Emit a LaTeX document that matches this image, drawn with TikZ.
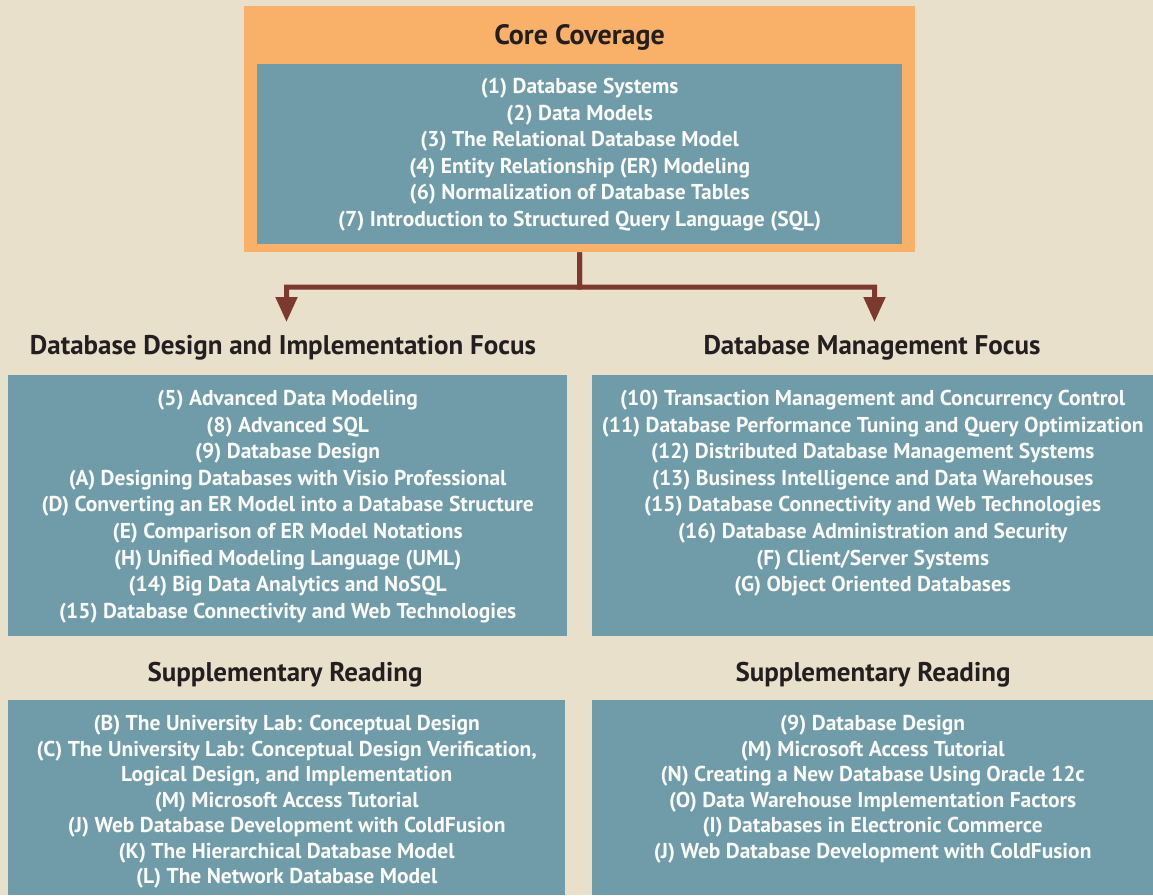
\documentclass[tikz,border=0pt]{standalone}
\usepackage{fontspec}
\setmainfont{PT Sans}
\usetikzlibrary{arrows.meta, positioning}
\definecolor{paper}{RGB}{232,224,202}
\definecolor{coreorange}{RGB}{249,176,104}
\definecolor{panelteal}{RGB}{112,156,169}
\definecolor{flowbrown}{RGB}{124,58,46}
\definecolor{headink}{RGB}{35,31,32}
\definecolor{itemink}{RGB}{250,250,246}

\begin{document}
\begin{tikzpicture}[x=1pt, y=-1pt,
    panel/.style={fill=panelteal, inner sep=0pt, anchor=north west},
    head/.style={text=headink, inner sep=0pt, font=\bfseries\fontsize{27}{32}\selectfont},
    items/.style={text=itemink, inner sep=0pt, align=center, font=\bfseries\fontsize{21.5}{26.6}\selectfont},
    suppitems/.style={items, font=\bfseries\fontsize{21.5}{25.5}\selectfont},
    flow/.style={draw=flowbrown, line width=5pt, -{Triangle[width=21pt, length=25pt]}}]
    \fill[paper] (0,0) rectangle (1153,895);
    \useasboundingbox (0,0) rectangle (1153,895);

    % core coverage
    \node[fill=coreorange, inner sep=0pt, anchor=north west, minimum width=671pt, minimum height=246pt] (corebox) at (244,6) {};
    \node[panel, minimum width=645pt, minimum height=180pt] (corepanel) at (257,64) {};
    \node[head, font=\bfseries\fontsize{28}{32}\selectfont] (corehead) at (579.5,37) {Core Coverage};
    \node[items, below=14pt of corepanel.north] (corelist) {%
        (1) Database Systems\\
        (2) Data Models\\
        (3) The Relational Database Model\\
        (4) Entity Relationship (ER) Modeling\\
        (6) Normalization of Database Tables\\
        (7) Introduction to Structured Query Language (SQL)};

    % two focus tracks
    \node[head] (designhead) at (283,347.5) {Database Design and Implementation Focus};
    \node[head] (mgmthead) at (872,347.5) {Database Management Focus};
    \node[panel, minimum width=559pt, minimum height=261pt] (designbox) at (8,375) {};
    \node[panel, minimum width=561pt, minimum height=261pt] (mgmtbox) at (592,375) {};
    \node[items, below=15pt of designbox.north] (designlist) {%
        (5) Advanced Data Modeling\\
        (8) Advanced SQL\\
        (9) Database Design\\
        (A) Designing Databases with Visio Professional\\
        (D) Converting an ER Model into a Database Structure\\
        (E) Comparison of ER Model Notations\\
        (H) Unified Modeling Language (UML)\\
        (14) Big Data Analytics and NoSQL\\
        (15) Database Connectivity and Web Technologies};
    \node[items, below=15pt of mgmtbox.north] (mgmtlist) {%
        (10) Transaction Management and Concurrency Control\\
        (11) Database Performance Tuning and Query Optimization\\
        (12) Distributed Database Management Systems\\
        (13) Business Intelligence and Data Warehouses\\
        (15) Database Connectivity and Web Technologies\\
        (16) Database Administration and Security\\
        (F) Client/Server Systems\\
        (G) Object Oriented Databases};

    % supplementary reading
    \node[head] (designsupphead) at (285,674.5) {Supplementary Reading};
    \node[head] (mgmtsupphead) at (873,674.5) {Supplementary Reading};
    \node[panel, minimum width=557pt, minimum height=195pt] (designsupp) at (8,700) {};
    \node[panel, minimum width=561pt, minimum height=195pt] (mgmtsupp) at (592,700) {};
    \node[suppitems, below=15pt of designsupp.north] (designsupplist) {%
        (B) The University Lab: Conceptual Design\\
        (C) The University Lab: Conceptual Design Verification,\\
        Logical Design, and Implementation\\
        (M) Microsoft Access Tutorial\\
        (J) Web Database Development with ColdFusion\\
        (K) The Hierarchical Database Model\\
        (L) The Network Database Model};
    \node[suppitems, below=15pt of mgmtsupp.north] (mgmtsupplist) {%
        (9) Database Design\\
        (M) Microsoft Access Tutorial\\
        (N) Creating a New Database Using Oracle 12c\\
        (O) Data Warehouse Implementation Factors\\
        (I) Databases in Electronic Commerce\\
        (J) Web Database Development with ColdFusion};

    % connectors
    \coordinate (split) at (579.5,287);
    \coordinate (designtip) at (286.5,322);
    \coordinate (mgmttip) at (874.5,322);
    \draw[flow] (corebox.south) -- (split) -| (designtip);
    \draw[flow] (corebox.south) -- (split) -| (mgmttip);
\end{tikzpicture}
\end{document}
